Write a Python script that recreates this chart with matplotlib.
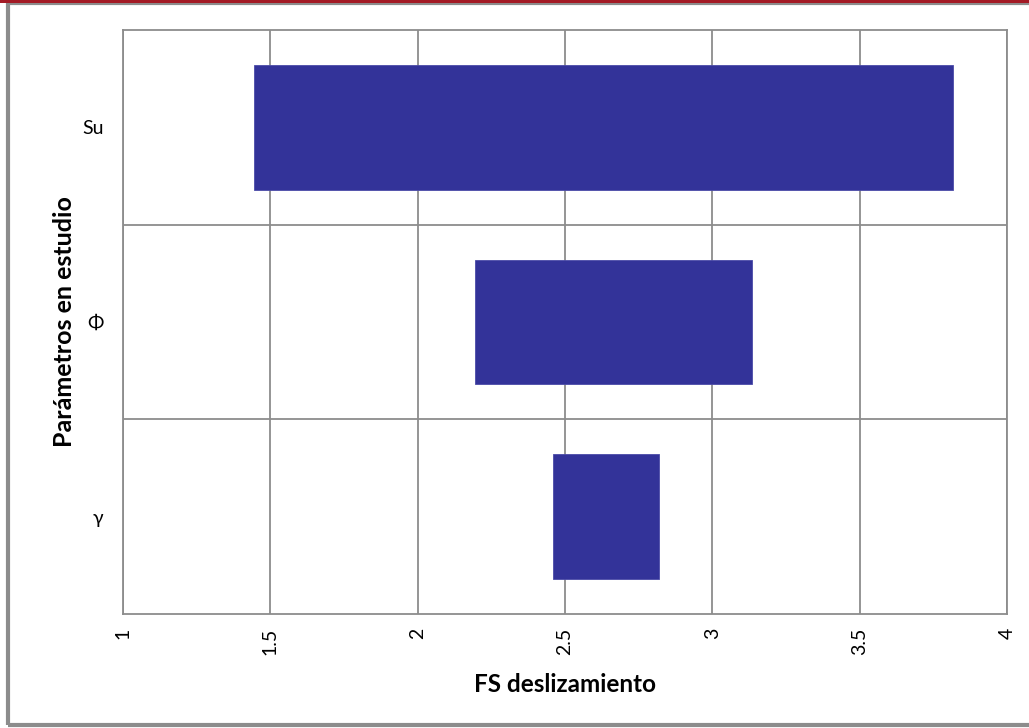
import matplotlib.pyplot as plt
from matplotlib.patches import Rectangle

# parameters (bottom to top) and FS range for each
params = ["γ", "Φ", "Su"]
fs_min = [2.459, 2.194, 1.445]
fs_max = [2.819, 3.134, 3.816]
xticks = [1, 1.5, 2, 2.5, 3, 3.5, 4]
xticklabels = ["1", "1.5", "2", "2.5", "3", "3.5", "4"]

plt.rcParams['font.family'] = ['Lato', 'DejaVu Sans']


def main():
    fig = plt.figure(figsize=(10.29, 7.28), dpi=100)
    ax = fig.add_axes([0.1195, 0.1566, 0.859, 0.8022])

    widths = [b - a for a, b in zip(fs_min, fs_max)]
    ypos = list(range(len(params)))
    ax.barh(ypos, widths, left=fs_min, height=0.64, color="#333399",
            edgecolor="#4b4ba8", linewidth=0.6, zorder=3)

    ax.set_xlim(1, 4)
    ax.set_ylim(-0.5, len(params) - 0.5)
    ax.set_xticks(xticks)
    ax.set_xticklabels(xticklabels, rotation=90, fontsize=14)
    ax.set_yticks(ypos)
    ax.set_yticklabels(params, fontsize=14)
    ax.set_yticks([0.5, 1.5], minor=True)
    ax.tick_params(axis="both", which="both", length=0)
    ax.tick_params(axis="x", pad=10)
    ax.tick_params(axis="y", pad=14)

    grid_color = "#8c8c8c"
    ax.grid(axis="x", which="major", color=grid_color, linewidth=1.3, zorder=0)
    ax.grid(axis="y", which="minor", color=grid_color, linewidth=1.3, zorder=0)
    for s in ax.spines.values():
        s.set_color(grid_color)
        s.set_linewidth(1.3)

    ax.set_xlabel("FS deslizamiento", fontsize=17.5, fontweight="bold", labelpad=13)
    ax.set_ylabel("Parámetros en estudio", fontsize=18, fontweight="bold", labelpad=4)

    # outer chart frame
    fig.patches.append(Rectangle((8 / 1029, 3 / 728), 1.2, 722 / 728,
                                 transform=fig.transFigure, fill=False,
                                 edgecolor="#8c8c8c", linewidth=3, zorder=0))
    fig.patches.append(Rectangle((0, 1 - 2.5 / 728), 1, 2.5 / 728,
                                 transform=fig.transFigure, facecolor="#a31a25",
                                 edgecolor="none", zorder=1))

    fig.savefig("out.png", dpi=100)


if __name__ == "__main__":
    main()
